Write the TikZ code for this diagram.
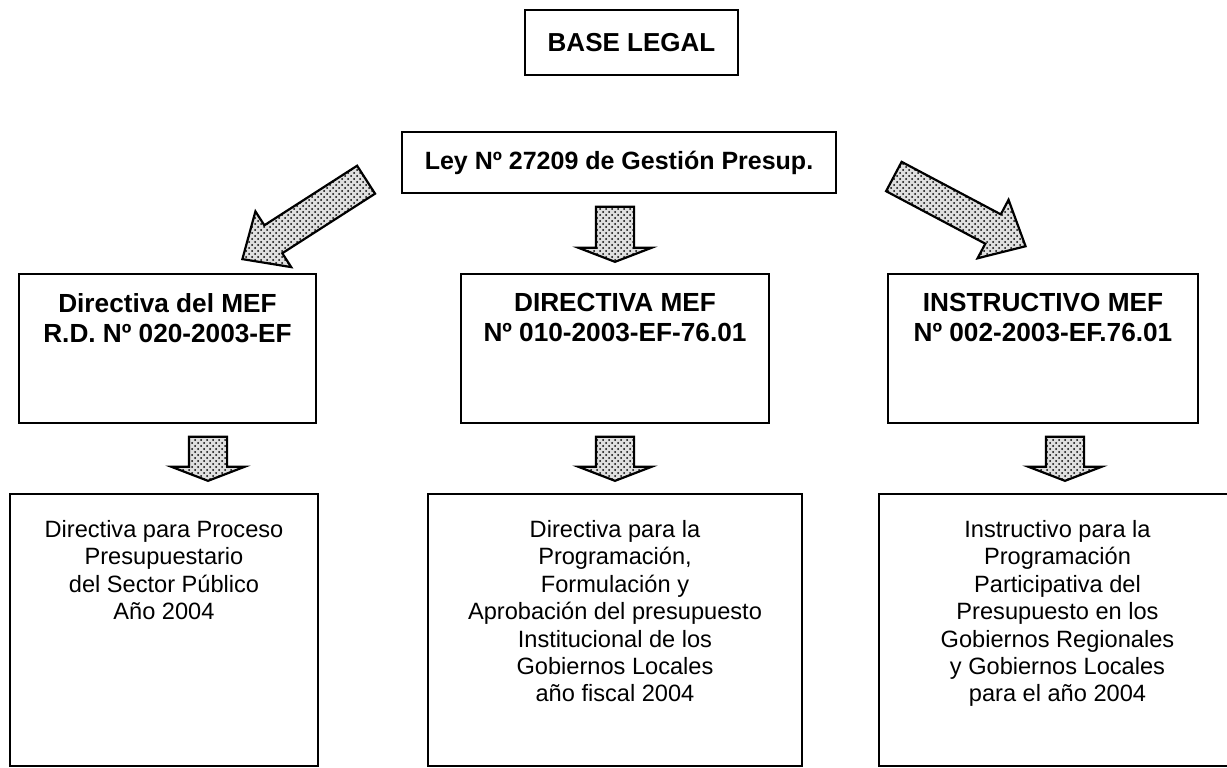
\documentclass[tikz,border=0pt]{standalone}
\usepackage{fontspec}
\setmainfont{Liberation Sans}
\usetikzlibrary{shapes.arrows,patterns}

\begin{document}
\begin{tikzpicture}[x=0.5pt,y=-0.5pt]

	\tikzset{box/.style = {shape=rectangle,draw,line width=1.1pt,inner sep=0pt}}
	\tikzset{title/.style = {font=\bfseries\fontsize{12.5}{15}\selectfont,align=center,inner sep=0pt}}
	\tikzset{subtitle/.style = {title,font=\bfseries\fontsize{13.1}{15}\selectfont}}
	\tikzset{body/.style = {font=\fontsize{11.8}{13.7}\selectfont,align=center,inner sep=0pt}}
	\tikzset{bigarrow/.style = {shape=single arrow,draw,line width=1.1pt,preaction={fill=gray!25},
		pattern=crosshatch dots,inner xsep=0pt,single arrow head indent=0pt}}
	\tikzset{slant/.style = {bigarrow,inner ysep=7.75pt,single arrow head extend=8.25pt,
		single arrow tip angle=84,anchor=tip}}
	\tikzset{down/.style = {bigarrow,inner ysep=9pt,single arrow head extend=8.75pt,
		single arrow tip angle=138,rotate=-90,anchor=tip}}

	\useasboundingbox (0,0) rectangle (1227,767);

	\node[box,title,font=\bfseries\fontsize{13}{15}\selectfont,minimum width=106.5pt,minimum height=32.5pt] (base) at (631.5,42.5) {BASE LEGAL};
	\node[box,title,minimum width=217pt,minimum height=30.5pt] (ley) at (619,162.5) {Ley Nº 27209 de Gestión Presup.};

	% directivas
	\node[box,minimum width=148.5pt,minimum height=74.5pt,
		label={[subtitle,anchor=north,yshift=-10pt]north:{Directiva del MEF\\R.D. Nº 020-2003-EF}}] (dir1) at (167.5,348.5) {};
	\node[box,minimum width=154pt,minimum height=74.5pt,
		label={[subtitle,anchor=north,yshift=-10pt]north:{DIRECTIVA MEF\\Nº 010-2003-EF-76.01}}] (dir2) at (615,348.5) {};
	\node[box,minimum width=155pt,minimum height=74.5pt,
		label={[subtitle,anchor=north,yshift=-10pt]north:{INSTRUCTIVO MEF\\Nº 002-2003-EF.76.01}}] (dir3) at (1043,348.5) {};

	% contenidos
	\node[box,minimum width=154pt,minimum height=136pt,
		label={[body,anchor=north,yshift=-13.5pt]north:{Directiva para Proceso\\Presupuestario\\del Sector Público\\Año 2004}}] (cont1) at (164,630) {};
	\node[box,minimum width=187pt,minimum height=136pt,
		label={[body,anchor=north,yshift=-13.5pt]north:{Directiva para la\\Programación,\\Formulación y\\Aprobación del presupuesto\\Institucional de los\\Gobiernos Locales\\año fiscal 2004}}] (cont2) at (615,630) {};
	\node[box,minimum width=178.5pt,minimum height=136pt,
		label={[body,anchor=north,yshift=-13.5pt]north:{Instructivo para la\\Programación\\Participativa del\\Presupuesto en los\\Gobiernos Regionales\\y Gobiernos Locales\\para el año 2004}}] (cont3) at (1057.5,630) {};

	% flechas
	\node[slant,minimum height=73.5pt,rotate=212.7] (a1) at (241,260) {};
	\node[down,minimum height=27.5pt] (a2) at (615,263) {};
	\node[slant,minimum height=74.5pt,rotate=-27.9] (a3) at (1027,247) {};

	\node[down,minimum height=22pt] (b1) at (208,482) {};
	\node[down,minimum height=22pt] (b2) at (615,482) {};
	\node[down,minimum height=22pt] (b3) at (1065,482) {};
\end{tikzpicture}
\end{document}
